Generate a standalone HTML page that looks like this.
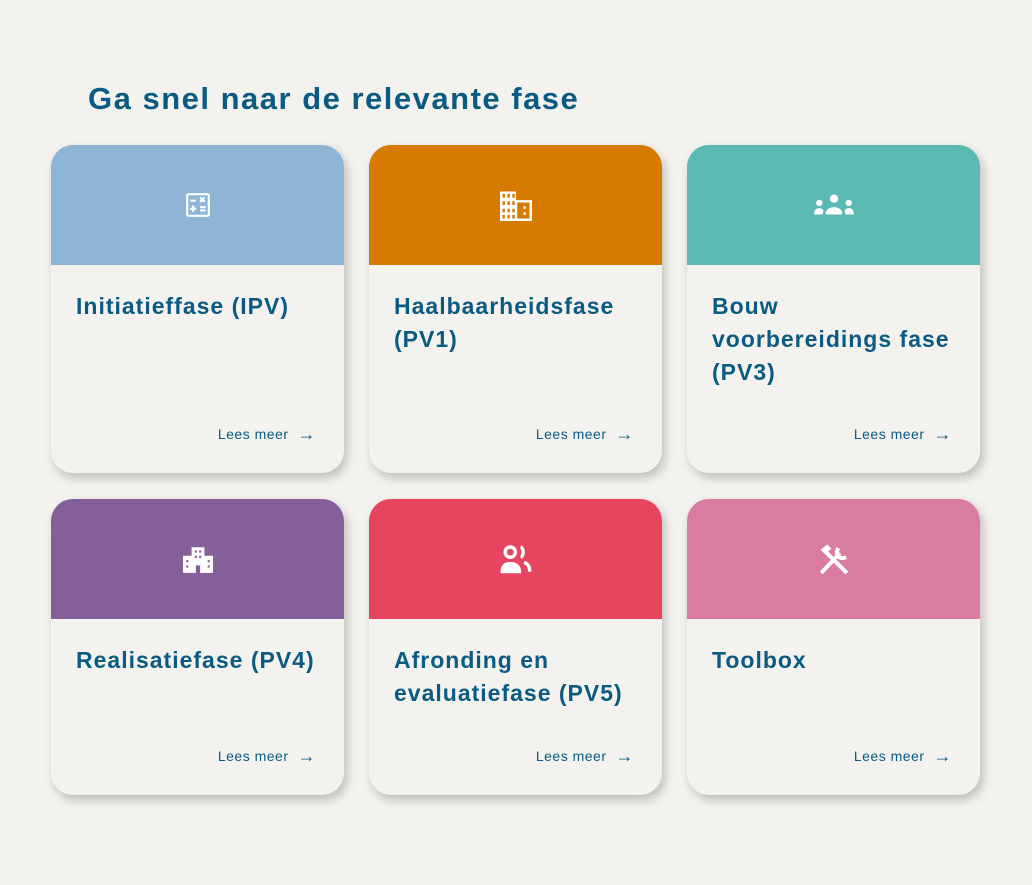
<!DOCTYPE html>
<html><head><meta charset="utf-8"><style>
*{margin:0;padding:0;box-sizing:border-box}
body{width:1032px;height:885px;background:#f3f2ef;font-family:"Liberation Sans",sans-serif;position:relative;overflow:hidden}
h1{position:absolute;left:88px;top:81px;font-size:31px;font-weight:bold;color:#0b5a82;letter-spacing:1.5px}
.card{position:absolute;width:293px;background:#f3f2ef;border-radius:22px;overflow:hidden;box-shadow:3px 5px 10px rgba(0,0,0,0.22)}
.hd{height:120px;display:flex;align-items:center;justify-content:center}
.t{position:absolute;left:25px;top:145px;font-size:23px;font-weight:bold;color:#0b5a82;line-height:33px;width:250px;letter-spacing:1px}
.m{position:absolute;right:28px;bottom:31px;font-size:14px;color:#0b5a82;display:flex;align-items:center;gap:9px;letter-spacing:0.5px}
.m span{font-size:18px;font-weight:bold;line-height:14px}
</style></head><body>
<h1>Ga snel naar de relevante fase</h1>

<div class="card" style="left:51px;top:145px;height:328px"><div class="hd" style="background:#8fb5d6"><svg width="26" height="26" viewBox="0 0 24 24" fill="none" stroke="#fff" stroke-width="2"><rect x="2" y="2" width="20" height="20" rx="1.5"/><path d="M5 8h5M14 5l4 4M18 5l-4 4M7.5 12.5v6M4.5 15.5h6M14 14h5M14 17h5"/></svg></div>
<div class="t">Initiatieffase (IPV)</div><div class="m">Lees meer <span>→</span></div></div>

<div class="card" style="left:369px;top:145px;height:328px"><div class="hd" style="background:#d77a00"><svg width="34" height="32" viewBox="0 0 26 26" fill="#fff"><path d="M0 2h13v7h13v17H0z M2 4v3h2V4zm4 0v3h2V4zm4 0v3h2V4zM2 10v3h2v-3zm4 0v3h2v-3zm4 0v3h2v-3zM2 16v3h2v-3zm4 0v3h2v-3zm4 0v3h2v-3zM2 21v3h2v-3zm4 0v3h2v-3zm4 0v3h2v-3zm4-10v13h10V11zm5 3v2h2v-2zm0 5v2h2v-2z" fill-rule="evenodd"/></svg></div>
<div class="t">Haalbaarheidsfase (PV1)</div><div class="m">Lees meer <span>→</span></div></div>

<div class="card" style="left:687px;top:145px;height:328px"><div class="hd" style="background:#5abab1"><svg width="42" height="24" viewBox="0 0 40 22" fill="#fff"><circle cx="20" cy="5" r="4"/><circle cx="6" cy="9" r="3"/><circle cx="34" cy="9" r="3"/><path d="M12 20c0-5 4-7 8-7s8 2 8 7z M1 20c0-4 2-6 5-6 2 0 3 1 4 2l-1 4z M39 20c0-4-2-6-5-6-2 0-3 1-4 2l1 4z"/></svg></div>
<div class="t">Bouw voorbereidings fase (PV3)</div><div class="m">Lees meer <span>→</span></div></div>

<div class="card" style="left:51px;top:499px;height:296px"><div class="hd" style="background:#855f98"><svg width="30" height="28" viewBox="0 0 28 26" fill="#fff"><path d="M8 2h12v8h8v16H0V10h8z" /><g fill="#855f98"><rect x="11" y="5" width="2" height="2"/><rect x="15" y="5" width="2" height="2"/><rect x="11" y="10" width="2" height="2"/><rect x="15" y="10" width="2" height="2"/><rect x="3" y="14" width="2" height="2"/><rect x="23" y="14" width="2" height="2"/><rect x="3" y="19" width="2" height="2"/><rect x="23" y="19" width="2" height="2"/><rect x="12" y="19" width="4" height="7"/></g></svg></div>
<div class="t">Realisatiefase (PV4)</div><div class="m">Lees meer <span>→</span></div></div>

<div class="card" style="left:369px;top:499px;height:296px"><div class="hd" style="background:#e5455e"><svg width="32" height="30" viewBox="0 0 28 26" fill="none" stroke="#fff" stroke-width="3"><circle cx="9" cy="7" r="4.5"/><path d="M2 24c0-5 3-7 7-7s8 2 8 7z" fill="#fff"/><path d="M18 2.5c3 1 3 8 0 9M21 16c3 1 5 3 5 8"/></svg></div>
<div class="t">Afronding en evaluatiefase (PV5)</div><div class="m">Lees meer <span>→</span></div></div>

<div class="card" style="left:687px;top:499px;height:296px"><div class="hd" style="background:#d97ca1"><svg width="32" height="32" viewBox="0 0 28 28" stroke="#fff" stroke-width="3.5" fill="none" stroke-linecap="square"><path d="M4 25L18 10"/><path d="M17 6a5 5 0 0 0 6 7"/><path d="M6 7l18 18"/><path d="M3 6l5-4 3 3-5 4z" fill="#fff" stroke-width="1"/></svg></div>
<div class="t">Toolbox</div><div class="m">Lees meer <span>→</span></div></div>
</body></html>
